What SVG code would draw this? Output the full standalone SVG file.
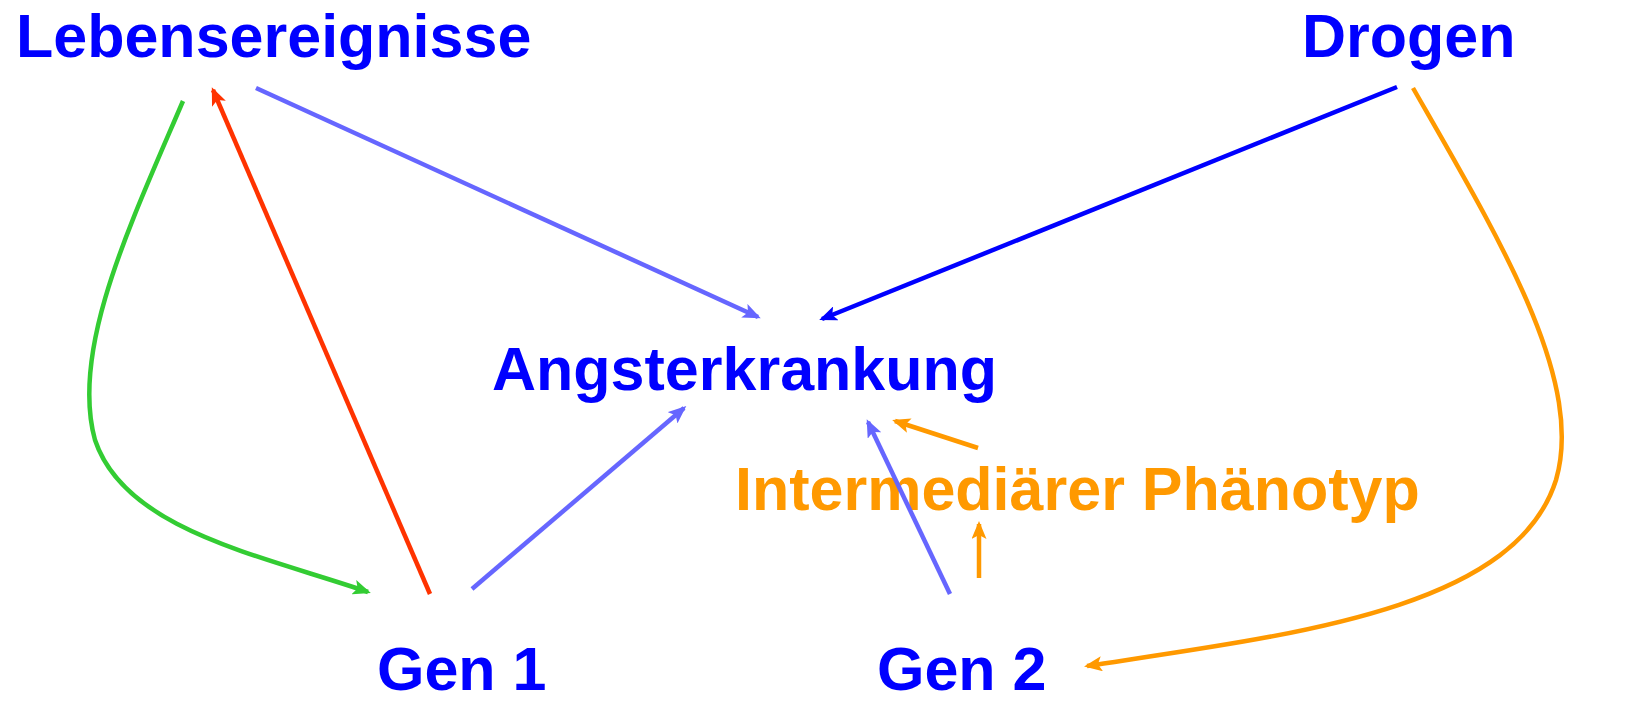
<svg xmlns="http://www.w3.org/2000/svg" width="1637" height="726" viewBox="0 0 1637 726">
<style>
.t{font-family:"Liberation Sans",Arial,sans-serif;font-weight:bold;font-size:61px}
.b{fill:#0000FF}
.o{fill:#FF9900}
.c{fill:none;stroke-width:4.5}
</style>
<defs>
<marker id="mB" viewBox="0 0 18 15" refX="15" refY="7.5" markerWidth="18" markerHeight="15" markerUnits="userSpaceOnUse" orient="auto"><path d="M0,0 L18,7.5 L0,15 L4,7.5 z" fill="#0000FF"/></marker>
<marker id="mL" viewBox="0 0 18 15" refX="15" refY="7.5" markerWidth="18" markerHeight="15" markerUnits="userSpaceOnUse" orient="auto"><path d="M0,0 L18,7.5 L0,15 L4,7.5 z" fill="#6666FF"/></marker>
<marker id="mR" viewBox="0 0 18 15" refX="15" refY="7.5" markerWidth="18" markerHeight="15" markerUnits="userSpaceOnUse" orient="auto"><path d="M0,0 L18,7.5 L0,15 L4,7.5 z" fill="#FF3300"/></marker>
<marker id="mG" viewBox="0 0 18 15" refX="15" refY="7.5" markerWidth="18" markerHeight="15" markerUnits="userSpaceOnUse" orient="auto"><path d="M0,0 L18,7.5 L0,15 L4,7.5 z" fill="#33CC33"/></marker>
<marker id="mO" viewBox="0 0 18 15" refX="15" refY="7.5" markerWidth="18" markerHeight="15" markerUnits="userSpaceOnUse" orient="auto"><path d="M0,0 L18,7.5 L0,15 L4,7.5 z" fill="#FF9900"/></marker>
</defs>
<rect width="1637" height="726" fill="#FFFFFF"/>
<g id="lebensereignisse"><text class="t b" x="16" y="57">Lebensereignisse</text></g>
<g id="drogen"><text class="t b" x="1302" y="57">Drogen</text></g>
<g id="angsterkrankung"><text class="t b" x="492" y="390">Angsterkrankung</text></g>
<g id="intermediaer"><text class="t o" x="735" y="510">Intermediärer Phänotyp</text></g>
<g id="gen1"><text class="t b" x="377" y="690">Gen 1</text></g>
<g id="gen2"><text class="t b" x="877" y="690">Gen 2</text></g>
<g id="connectors">
<line class="c" stroke="#6666FF" x1="256" y1="88" x2="758" y2="317" marker-end="url(#mL)"/>
<line class="c" stroke="#0000FF" x1="1397" y1="87" x2="822" y2="319" marker-end="url(#mB)"/>
<line class="c" stroke="#FF3300" x1="430" y1="594" x2="213" y2="90" marker-end="url(#mR)"/>
<path class="c" stroke="#33CC33" d="M183,101 C130,225 70,350 95,440 C125,530 260,555 368,592" marker-end="url(#mG)"/>
<line class="c" stroke="#6666FF" x1="472" y1="589" x2="684" y2="408" marker-end="url(#mL)"/>
<line class="c" stroke="#6666FF" x1="950" y1="594" x2="868" y2="422" marker-end="url(#mL)"/>
<line class="c" stroke="#FF9900" x1="978" y1="448" x2="895" y2="421" marker-end="url(#mO)"/>
<line class="c" stroke="#FF9900" x1="979" y1="578" x2="979" y2="524" marker-end="url(#mO)"/>
<path class="c" stroke="#FF9900" d="M1413,88 C1500,240 1585,380 1556,480 C1515,610 1290,635 1087,666" marker-end="url(#mO)"/>
</g>
</svg>
